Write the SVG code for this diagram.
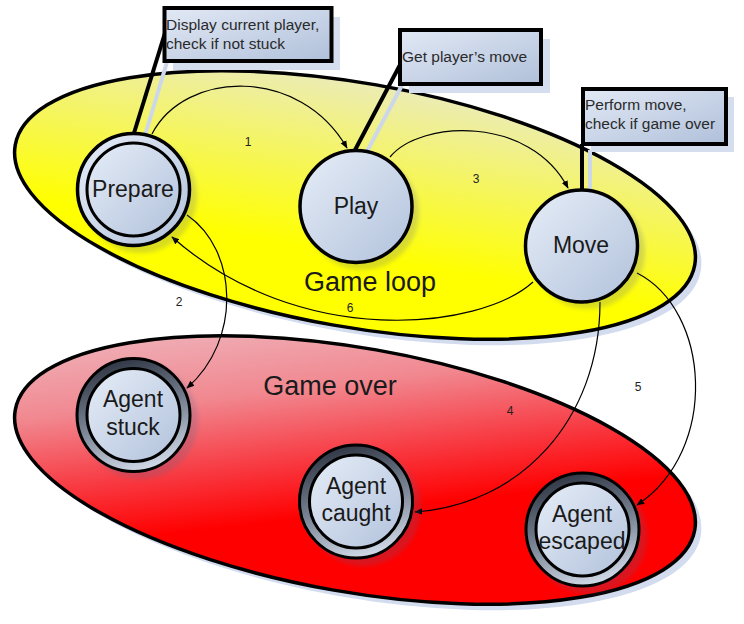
<svg xmlns="http://www.w3.org/2000/svg" width="744" height="624" viewBox="0 0 744 624">
<defs>
<linearGradient id="gYellow" gradientUnits="userSpaceOnUse" x1="0" y1="75" x2="0" y2="300">
<stop offset="0" stop-color="#ebebbe"/><stop offset="0.8" stop-color="#ffff00"/>
</linearGradient>
<linearGradient id="gRed" gradientUnits="userSpaceOnUse" x1="200" y1="335" x2="270" y2="570">
<stop offset="0" stop-color="#efb6be"/><stop offset="0.35" stop-color="#f18890"/><stop offset="0.65" stop-color="#f83840"/><stop offset="0.88" stop-color="#ff0000"/>
</linearGradient>
<linearGradient id="gNode" x1="0" y1="0" x2="1" y2="1">
<stop offset="0" stop-color="#e6edf7"/><stop offset="1" stop-color="#b2c2dc"/>
</linearGradient>
<linearGradient id="gBox" x1="0" y1="0" x2="1" y2="1">
<stop offset="0" stop-color="#e2e9f5"/><stop offset="1" stop-color="#b0c0da"/>
</linearGradient>
<linearGradient id="gRing" x1="0.3" y1="0" x2="0.6" y2="1">
<stop offset="0" stop-color="#2c3240"/><stop offset="0.55" stop-color="#7d8898"/><stop offset="1" stop-color="#d4dcea"/>
</linearGradient>
<filter id="blur" x="-20%" y="-20%" width="140%" height="140%"><feGaussianBlur stdDeviation="2"/></filter>
<marker id="arr" viewBox="0 0 10 10" refX="9" refY="5" markerWidth="8" markerHeight="8" markerUnits="userSpaceOnUse" orient="auto">
<path d="M0,1 L10,5 L0,9 z" fill="#000"/>
</marker>
<style>
.region{stroke:#000;stroke-width:3.5}
.rshadow{fill:#d2dcee}
.nshadow{fill:#56628c;opacity:0.22;filter:url(#blur)}
.node{fill:url(#gNode);stroke:#000;stroke-width:3.5}
.ring{fill:url(#gRing);stroke:#000;stroke-width:3}
.inner{fill:url(#gNode);stroke:#000;stroke-width:3}
.lbl{font-family:"Liberation Sans",Arial,sans-serif;font-size:23px;fill:#1a1a1a;text-anchor:middle}
.big{font-family:"Liberation Sans",Arial,sans-serif;font-size:27px;fill:#1a1a1a;text-anchor:middle}
.num{font-family:"Liberation Sans",Arial,sans-serif;font-size:12px;fill:#222;text-anchor:middle}
.box{fill:url(#gBox);stroke:#000;stroke-width:4}
.bshadow{fill:#d4deef}
.ptr{stroke:#000;stroke-width:4;fill:none}
.pshadow{stroke:#ccd7ea;stroke-width:4;fill:none}
.note{font-family:"Liberation Sans",Arial,sans-serif;font-size:15.5px;fill:#2a2a2a}
.edge{fill:none;stroke:#000;stroke-width:1.2;marker-end:url(#arr)}
</style>
</defs>
<rect width="744" height="624" fill="#fff"/>

<g id="game-loop">
<ellipse class="rshadow" cx="361" cy="211" rx="345" ry="122" transform="rotate(10 361 211)"/>
<ellipse class="region" fill="url(#gYellow)" cx="355" cy="205" rx="345" ry="122" transform="rotate(10 355 205)"/>
<text class="big" x="370" y="291">Game loop</text>
</g>

<g id="game-over">
<ellipse class="rshadow" cx="361" cy="476" rx="345" ry="122" transform="rotate(10 361 476)"/>
<ellipse class="region" fill="url(#gRed)" cx="355" cy="470" rx="345" ry="122" transform="rotate(10 355 470)"/>
<text class="big" x="330" y="395">Game over</text>
</g>

<g id="callout-shadows">
<rect class="bshadow" x="173" y="17" width="167" height="53"/>
<line class="pshadow" x1="173" y1="42" x2="143" y2="142"/>
<rect class="bshadow" x="409" y="39" width="141" height="54"/>
<line class="pshadow" x1="409" y1="72" x2="364" y2="157"/>
<rect class="bshadow" x="591" y="97" width="143" height="55"/>
<line class="pshadow" x1="590" y1="150" x2="590" y2="200"/>
</g>

<g id="connectors">
<path class="edge" d="M152,134 C185,70 300,66 347,148"/>
<path class="edge" d="M390,157 C420,120 530,115 568,188"/>
<path class="edge" d="M187,215 C238,250 242,340 187,388"/>
<path class="edge" d="M533,282 C480,330 300,350 172,237"/>
<path class="edge" d="M600,302 C600,420 520,505 415,512"/>
<path class="edge" d="M637,273 C710,310 720,450 637,505"/>
<text class="num" x="248" y="146">1</text>
<text class="num" x="179" y="306">2</text>
<text class="num" x="476" y="183">3</text>
<text class="num" x="510" y="415">4</text>
<text class="num" x="638" y="391">5</text>
<text class="num" x="350" y="312">6</text>
</g>

<g id="prepare">
<circle class="nshadow" cx="140" cy="196" r="57"/>
<circle class="node" cx="133.5" cy="189.5" r="56"/>
<circle class="inner" cx="133.5" cy="189.5" r="46.5"/>
<text class="lbl" x="133" y="197">Prepare</text>
</g>

<g id="play">
<circle class="nshadow" cx="362" cy="213" r="57"/>
<circle class="node" cx="356" cy="206.5" r="56"/>
<text class="lbl" x="356" y="214">Play</text>
</g>

<g id="move">
<circle class="nshadow" cx="588" cy="252" r="57"/>
<circle class="node" cx="581.5" cy="246" r="56"/>
<text class="lbl" x="581" y="253">Move</text>
</g>

<g id="agent-stuck">
<circle class="nshadow" cx="140" cy="421" r="58"/>
<circle class="ring" cx="133.5" cy="415" r="56.5"/>
<circle class="inner" cx="133.5" cy="415" r="46.5"/>
<text class="lbl" x="133" y="407">Agent</text>
<text class="lbl" x="133" y="435">stuck</text>
</g>

<g id="agent-caught">
<circle class="nshadow" cx="363" cy="508" r="58"/>
<circle class="ring" cx="356" cy="501.5" r="56.5"/>
<circle class="inner" cx="356" cy="501.5" r="46.5"/>
<text class="lbl" x="356" y="494">Agent</text>
<text class="lbl" x="356" y="521">caught</text>
</g>

<g id="agent-escaped">
<circle class="nshadow" cx="589" cy="536" r="58"/>
<circle class="ring" cx="582.5" cy="529.5" r="56.5"/>
<circle class="inner" cx="582.5" cy="529.5" r="46.5"/>
<text class="lbl" x="582" y="522">Agent</text>
<text class="lbl" x="582" y="549">escaped</text>
</g>

<g id="note-prepare">
<line class="ptr" x1="165" y1="33" x2="134" y2="133"/>
<rect class="box" x="164.5" y="8" width="167" height="53"/>
<text class="note" x="166" y="30">Display current player,</text>
<text class="note" x="166" y="49">check if not stuck</text>
</g>

<g id="note-play">
<line class="ptr" x1="401" y1="63" x2="355" y2="150"/>
<rect class="box" x="400" y="30" width="141" height="54"/>
<text class="note" x="402" y="62">Get player’s move</text>
</g>

<g id="note-move">
<line class="ptr" x1="582" y1="144" x2="582" y2="190"/>
<rect class="box" x="583" y="89" width="143" height="55"/>
<text class="note" x="585" y="110">Perform move,</text>
<text class="note" x="585" y="129">check if game over</text>
</g>
</svg>
